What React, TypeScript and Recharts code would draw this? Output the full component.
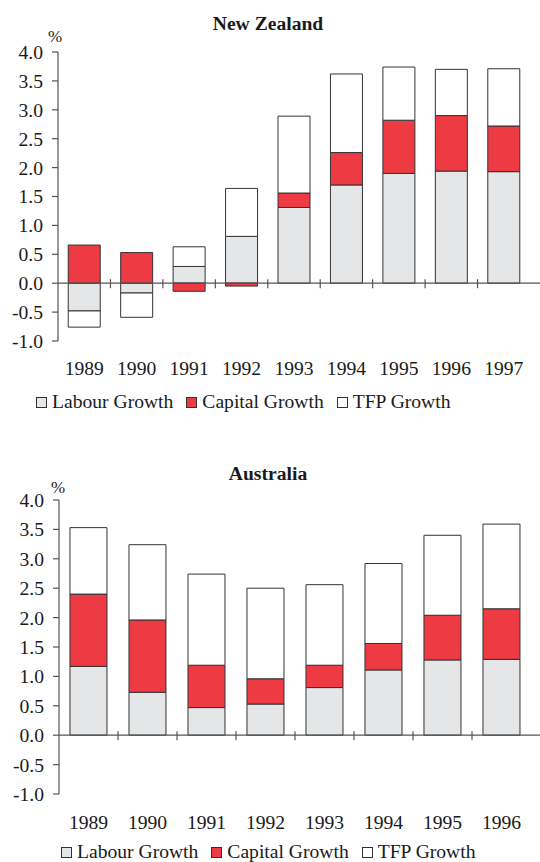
import React from 'react';
import { BarChart, Bar, XAxis, YAxis, ReferenceLine, Legend } from 'recharts';

const nzYears = ['1989', '1990', '1991', '1992', '1993', '1994', '1995', '1996', '1997'];
const nzLabour = [-0.48, -0.17, 0.29, 0.81, 1.31, 1.7, 1.9, 1.94, 1.93];
const nzCapital = [0.66, 0.53, -0.14, -0.05, 0.25, 0.56, 0.92, 0.96, 0.79];
const nzTfp = [-0.28, -0.42, 0.34, 0.83, 1.33, 1.36, 0.92, 0.8, 0.99];

const auYears = ['1989', '1990', '1991', '1992', '1993', '1994', '1995', '1996'];
const auLabour = [1.17, 0.73, 0.47, 0.53, 0.81, 1.11, 1.28, 1.29];
const auCapital = [1.23, 1.23, 0.72, 0.43, 0.38, 0.45, 0.76, 0.86];
const auTfp = [1.13, 1.28, 1.55, 1.54, 1.37, 1.36, 1.36, 1.44];

const yTicks = [-1, -0.5, 0, 0.5, 1, 1.5, 2, 2.5, 3, 3.5, 4];
const seriesNames = ['Labour Growth', 'Capital Growth', 'TFP Growth'];

const FONT = "'Liberation Serif', 'Times New Roman', serif";
const FS = 19.6;
const LABOUR = '#e5e6e8';
const CAPITAL = '#ee3a43';
const TFP = '#ffffff';
const STROKE = '#333333';
const AXIS = '#555555';
const TEXT = '#1a1a1a';

const build = (years: string[], l: number[], c: number[], t: number[]) =>
  years.map((y, i) => ({ year: y, labour: l[i], capital: c[i], tfp: t[i] }));

const nzData = build(nzYears, nzLabour, nzCapital, nzTfp);
const auData = build(auYears, auLabour, auCapital, auTfp);

const XTick = (props: any) => {
  const { x, y, payload, offsetY } = props;
  return (
    <text x={x} y={y + offsetY} dy="0.35em" textAnchor="middle" fontFamily={FONT} fontSize={FS} fill={TEXT}>
      {payload.value}
    </text>
  );
};

const zeroShape = (n: number) => (p: any) => {
  const { x1, y1, x2 } = p;
  const step = (x2 - x1) / n;
  const marks = [];
  for (let i = 1; i < n; i++) {
    const xx = x1 + step * i;
    marks.push(<line key={i} x1={xx} x2={xx} y1={y1 - 4} y2={y1 + 5} stroke={AXIS} strokeWidth={1.2} />);
  }
  return (
    <g>
      <line x1={x1} x2={540} y1={y1} y2={y1} stroke={AXIS} strokeWidth={1.2} />
      {marks}
    </g>
  );
};

const LegendContent = () => {
  const fills = [LABOUR, CAPITAL, TFP];
  return (
    <div style={{ display: 'flex', alignItems: 'center', fontFamily: FONT, fontSize: FS, lineHeight: '19px', color: TEXT, whiteSpace: 'nowrap' }}>
      {seriesNames.map((n, i) => (
        <div key={n} style={{ display: 'flex', alignItems: 'center', marginRight: 13 }}>
          <span style={{ display: 'inline-block', width: 9, height: 9, border: `1px solid ${STROKE}`, background: fills[i], marginRight: 5, marginTop: 2 }} />
          <span>{n}</span>
        </div>
      ))}
    </div>
  );
};

type PanelProps = {
  title: string;
  data: any[];
  top: number;
  height: number;
  margin: any;
  yWidth: number;
  gap: string;
  titleTop: number;
  pctLeft: number;
  pctTop: number;
  legendTop: number;
  legendLeft: number;
  xOffset: number;
};

const Panel = (p: PanelProps) => (
  <div style={{ position: 'absolute', left: 0, top: p.top, width: 540, height: p.height }}>
    <div style={{ position: 'absolute', left: 0, width: 536, top: p.titleTop, textAlign: 'center', fontFamily: FONT, fontWeight: 'bold', fontSize: FS, lineHeight: '19px', color: TEXT }}>
      {p.title}
    </div>
    <div style={{ position: 'absolute', left: p.pctLeft, top: p.pctTop, fontFamily: FONT, fontSize: 17, lineHeight: '17px', color: TEXT }}>%</div>
    <BarChart width={540} height={p.height} data={p.data} margin={p.margin} stackOffset="sign" barCategoryGap={p.gap}>
      <XAxis
        dataKey="year"
        axisLine={false}
        tickLine={false}
        tickSize={0}
        tickMargin={0}
        height={40}
        interval={0}
        tick={<XTick offsetY={p.xOffset} />}
      />
      <YAxis
        domain={[-1, 4]}
        ticks={yTicks}
        width={p.yWidth}
        interval={0}
        tickFormatter={(v: number) => v.toFixed(1)}
        axisLine={{ stroke: AXIS, strokeWidth: 1.2 }}
        tickLine={{ stroke: AXIS, strokeWidth: 1.2 }}
        tickSize={6}
        tickMargin={9}
        tick={{ fontFamily: FONT, fontSize: FS, fill: TEXT }}
        allowDataOverflow
      />
      <Bar dataKey="labour" name={seriesNames[0]} stackId="a" fill={LABOUR} stroke={STROKE} strokeWidth={1} isAnimationActive={false} />
      <Bar dataKey="capital" name={seriesNames[1]} stackId="a" fill={CAPITAL} stroke={STROKE} strokeWidth={1} isAnimationActive={false} />
      <Bar dataKey="tfp" name={seriesNames[2]} stackId="a" fill={TFP} stroke={STROKE} strokeWidth={1} isAnimationActive={false} />
      <ReferenceLine y={0} shape={zeroShape(p.data.length)} />
      <Legend
        layout="horizontal"
        verticalAlign="middle"
        align="center"
        wrapperStyle={{ top: p.legendTop, left: p.legendLeft, width: 480, height: 20 }}
        content={<LegendContent />}
      />
    </BarChart>
  </div>
);

export default function App() {
  return (
    <div style={{ position: 'absolute', left: 0, top: 0, width: 540, height: 862, overflow: 'hidden', background: '#fff' }}>
      <Panel
        title="New Zealand"
        data={nzData}
        top={0}
        height={440}
        margin={{ top: 52, right: 10, bottom: 59, left: 0 }}
        yWidth={58}
        gap="19.5%"
        titleTop={14}
        pctLeft={48}
        pctTop={28}
        legendTop={392}
        legendLeft={36}
        xOffset={27}
      />
      <Panel
        title="Australia"
        data={auData}
        top={440}
        height={422}
        margin={{ top: 60, right: 9, bottom: 28, left: 0 }}
        yWidth={59}
        gap="18.6%"
        titleTop={24}
        pctLeft={51}
        pctTop={39}
        legendTop={402}
        legendLeft={61}
        xOffset={28}
      />
    </div>
  );
}
